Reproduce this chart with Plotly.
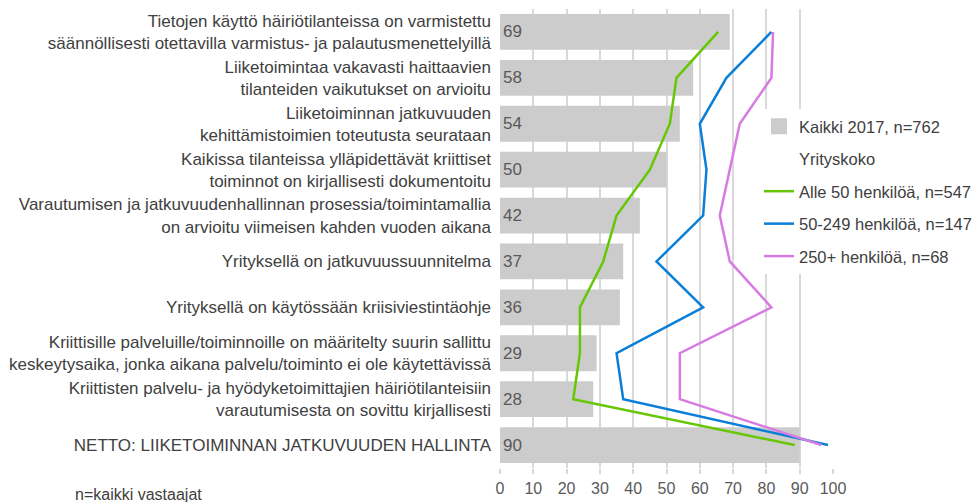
import plotly.graph_objects as go

categories = [
    "Tietojen käyttö häiriötilanteissa on varmistettu<br>säännöllisesti otettavilla varmistus- ja palautusmenettelyillä",
    "Liiketoimintaa vakavasti haittaavien<br>tilanteiden vaikutukset on arvioitu",
    "Liiketoiminnan jatkuvuuden<br>kehittämistoimien toteutusta seurataan",
    "Kaikissa tilanteissa ylläpidettävät kriittiset<br>toiminnot on kirjallisesti dokumentoitu",
    "Varautumisen ja jatkuvuudenhallinnan prosessia/toimintamallia<br>on arvioitu viimeisen kahden vuoden aikana",
    "Yrityksellä on jatkuvuussuunnitelma",
    "Yrityksellä on käytössään kriisiviestintäohje",
    "Kriittisille palveluille/toiminnoille on määritelty suurin sallittu<br>keskeytysaika, jonka aikana palvelu/toiminto ei ole käytettävissä",
    "Kriittisten palvelu- ja hyödyketoimittajien häiriötilanteisiin<br>varautumisesta on sovittu kirjallisesti",
    "NETTO: LIIKETOIMINNAN JATKUVUUDEN HALLINTA",
]
kaikki_2017 = [69, 58, 54, 50, 42, 37, 36, 29, 28, 90]
alle_50 = [65.5, 53, 51, 45, 35, 31, 24, 24, 22, 88.5]
v50_249 = [81.5, 68, 60, 62, 61, 47, 61, 35, 37, 98.5]
v250_plus = [82, 81.5, 72, 69, 66, 69, 81.5, 54, 54, 96.5]

name_all = "Kaikki 2017, n=762"
name_group = "Yrityskoko"
name_small = "Alle 50 henkilöä, n=547"
name_mid = "50-249 henkilöä, n=147"
name_large = "250+ henkilöä, n=68"
footnote = "n=kaikki vastaajat"
x_ticks = [0, 10, 20, 30, 40, 50, 60, 70, 80, 90, 100]

FONT = "Liberation Sans, Arial, sans-serif"
BAR_COLOR = "#cccccc"

fig = go.Figure()
fig.add_trace(go.Bar(
    x=kaikki_2017, y=categories, orientation="h", name=name_all,
    marker=dict(color=BAR_COLOR, line=dict(width=0)), width=0.78,
    text=[str(v) for v in kaikki_2017], textposition="inside",
    insidetextanchor="start", constraintext="none",
    textfont=dict(size=17, color="#595959", family=FONT),
    showlegend=False, hoverinfo="skip",
))
# legend entry for the bars (larger square swatch)
fig.add_trace(go.Scatter(
    x=[None], y=[None], mode="markers", name=name_all,
    marker=dict(symbol="square", size=19, color=BAR_COLOR),
    legendgroup="a",
))
fig.add_trace(go.Scatter(
    x=[None], y=[None], mode="lines", name=name_group,
    line=dict(color="rgba(0,0,0,0)", width=2.5), legendgroup="b",
))
for vals, nm, col, g in [
    (alle_50, name_small, "#66c705", "c"),
    (v50_249, name_mid, "#0a7fd8", "d"),
    (v250_plus, name_large, "#d77be3", "e"),
]:
    fig.add_trace(go.Scatter(
        x=vals, y=categories, mode="lines", name=nm,
        line=dict(color=col, width=2.5), legendgroup=g,
    ))

fig.update_layout(
    width=977, height=502,
    margin=dict(l=500, r=144, t=9, b=34, autoexpand=False),
    plot_bgcolor="white", paper_bgcolor="white",
    font=dict(family=FONT, color="#404040", size=17),
    showlegend=True,
    legend=dict(
        x=(759 - 500) / 333, y=0.782, xanchor="left", yanchor="top",
        bgcolor="white", borderwidth=0, traceorder="grouped",
        tracegroupgap=8, font=dict(size=16.5, color="#404040", family=FONT),
    ),
    xaxis=dict(
        range=[0, 100], tickvals=x_ticks, showgrid=True,
        gridcolor="#d9d9d9", gridwidth=1.5, zeroline=False,
        showline=False, ticks="outside", ticklen=5, tickcolor="#d9d9d9",
        tickwidth=1.5, ticklabelstandoff=1, automargin=False,
        tickfont=dict(size=16, color="#595959", family=FONT),
        fixedrange=True,
    ),
    yaxis=dict(
        autorange="reversed", showgrid=False, zeroline=False,
        showline=False, ticks="", ticklabelstandoff=8, automargin=False,
        tickfont=dict(size=17, color="#404040", family=FONT),
        fixedrange=True,
    ),
    annotations=[dict(
        text=footnote, xref="paper", yref="paper",
        x=(73 - 500) / 333, y=(468 - 494) / 459,
        xanchor="left", yanchor="middle", showarrow=False,
        font=dict(size=16, color="#404040", family=FONT),
    )],
)

fig.write_html(
    "out.html",
    config={"displayModeBar": False},
    post_script="document.body.style.margin='0';document.body.style.overflow='hidden';",
)
